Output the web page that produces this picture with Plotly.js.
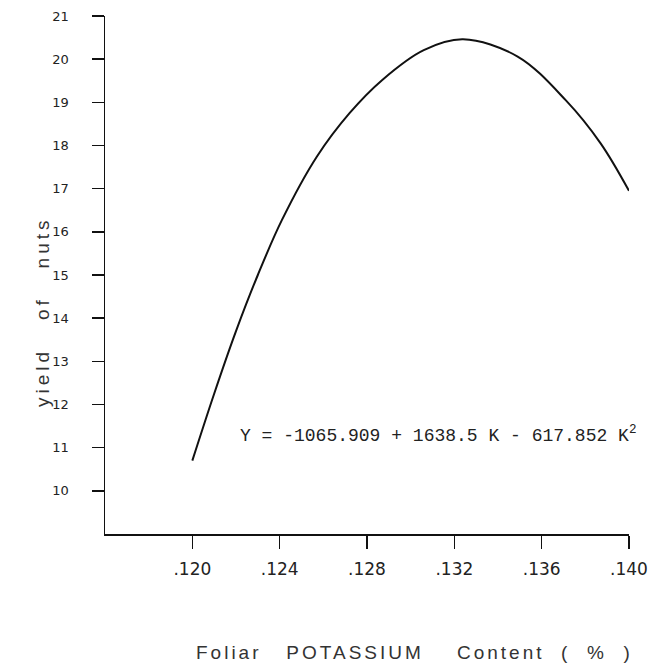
<!DOCTYPE html>
<html>
<head>
<meta charset="utf-8">
<script src="https://cdn.plot.ly/plotly-3.0.1.min.js"></script>
<style>
html,body{margin:0;padding:0;background:#fff;}
#chart{width:650px;height:668px;}
#chart .annotation[data-index="1"] text{letter-spacing:3px;}
#chart .annotation[data-index="2"] text{letter-spacing:4px;}
</style>
</head>
<body>
<div id="chart"></div>
<script>
// Foliar potassium content (%) and fitted yield of nuts
const potassium = [0.1200, 0.1210, 0.1220, 0.1230, 0.1241, 0.1257, 0.1272, 0.1287, 0.1306, 0.1324, 0.1349, 0.1371, 0.1387, 0.1400];
const yieldNuts = [10.7, 12.25, 13.7, 15.0, 16.27, 17.74, 18.75, 19.52, 20.21, 20.46, 20.06, 19.05, 18.05, 16.95];

const xTickVals = [0.120, 0.124, 0.128, 0.132, 0.136, 0.140];
const xTickText = ['.120', '.124', '.128', '.132', '.136', '.140'];
const yTickVals = [10, 11, 12, 13, 14, 15, 16, 17, 18, 19, 20, 21];

const equationText = 'Y = -1065.909 + 1638.5 K - 617.852 K<sup>2</sup>';
const xTitle = 'Foliar\u00A0\u00A0\u00A0POTASSIUM\u00A0\u00A0\u00A0\u00A0Content\u00A0\u00A0(\u00A0\u00A0%\u00A0\u00A0)';
const yTitle = 'yield\u00A0\u00A0\u00A0of\u00A0\u00A0\u00A0nuts';

const trace = {
  x: potassium,
  y: yieldNuts,
  type: 'scatter',
  mode: 'lines',
  line: {color: '#111', width: 2, shape: 'spline', smoothing: 1},
  hoverinfo: 'skip'
};

const layout = {
  width: 650,
  height: 668,
  margin: {l: 105, r: 21, t: 16, b: 134},
  paper_bgcolor: '#fff',
  plot_bgcolor: '#fff',
  showlegend: false,
  font: {family: 'DejaVu Sans', color: '#222'},
  xaxis: {
    range: [0.116, 0.140],
    tickvals: xTickVals,
    ticktext: xTickText,
    ticks: 'outside',
    ticklen: 13,
    tickwidth: 1.5,
    tickcolor: '#111',
    ticklabelstandoff: 6,
    tickfont: {family: 'DejaVu Sans', size: 17, color: '#222'},
    showline: true,
    linecolor: '#111',
    linewidth: 1.5,
    showgrid: false,
    zeroline: false
  },
  yaxis: {
    range: [9, 21],
    tickvals: yTickVals,
    ticks: 'outside',
    ticklen: 12,
    tickwidth: 1.5,
    tickcolor: '#111',
    ticklabelstandoff: 20,
    tickfont: {family: 'DejaVu Sans', size: 13, color: '#222'},
    showline: true,
    linecolor: '#111',
    linewidth: 1.5,
    showgrid: false,
    zeroline: false
  },
  annotations: [
    {
      x: 0.13124, y: 11.3, xref: 'x', yref: 'y',
      text: equationText, showarrow: false,
      font: {family: 'Liberation Mono', size: 18, color: '#222'}
    },
    {
      x: 0.5916, y: -0.2278, xref: 'paper', yref: 'paper',
      xanchor: 'center', yanchor: 'middle',
      text: xTitle, showarrow: false,
      font: {family: 'Liberation Sans', size: 19, color: '#333'}
    },
    {
      x: -0.1183, y: 0.4286, xref: 'paper', yref: 'paper',
      xanchor: 'center', yanchor: 'middle', textangle: -90,
      text: yTitle, showarrow: false,
      font: {family: 'Liberation Sans', size: 19, color: '#333'}
    }
  ]
};

Plotly.newPlot('chart', [trace], layout, {displayModeBar: false, staticPlot: true});
</script>
</body>
</html>
